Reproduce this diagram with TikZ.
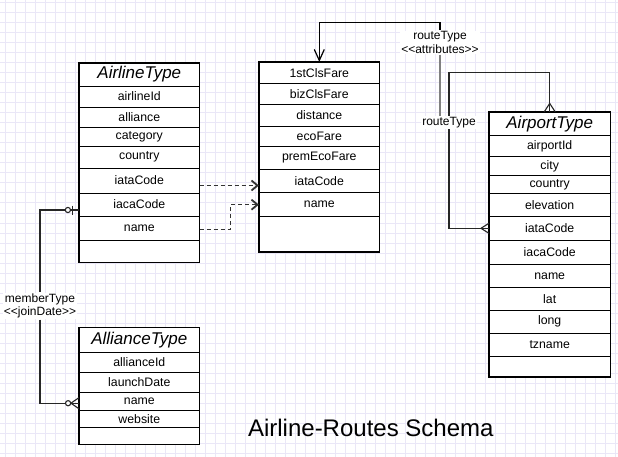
\documentclass[tikz,border=0pt]{standalone}
\usepackage{fontspec}
\setmainfont{Liberation Sans}
\usetikzlibrary{arrows.meta,calc}
\begin{document}
\begin{tikzpicture}[x=1pt,y=-1pt,
  gridline/.style={draw={rgb,255:red,234;green,231;blue,247}, line width=1pt},
  rowbox/.style={draw=black, line width=0.8pt, fill=white, minimum width=120pt, inner sep=0pt, font=\fontsize{12.3}{14}\selectfont},
  headbox/.style={rowbox, font=\fontsize{17}{20}\selectfont\itshape},
  outer/.style={draw=black, line width=1.2pt},
  rel/.style={draw=black!85, line width=1.1pt},
  dep/.style={draw=black!80, line width=1pt, dash pattern=on 4pt off 3pt, -{Straight Barb[length=6pt,width=10pt,line width=1.8pt]}},
  assoc/.style={draw=black, line width=1.1pt, -{Straight Barb[length=11pt,width=10pt,line width=1.2pt]}},
  greyline/.style={draw=black!50, line width=2pt},
  lbl/.style={fill=white, inner sep=1pt, font=\fontsize{12}{13.5}\selectfont, align=center}
]
\path[fill=white] (0,0) rectangle (618,457);
\useasboundingbox (0,0) rectangle (618,457);
\foreach \gx in {5,15,...,615} \draw[gridline] (\gx,0) -- (\gx,457);
\foreach \gy in {3,13,...,453} \draw[gridline] (0,\gy) -- (618,\gy);

% AirlineType
\node[headbox, minimum height=23pt] (al-head) at (139.3,74.5) {AirlineType};
\node[rowbox, minimum height=21pt] (al-id) at (139.3,96.5) {airlineId};
\node[rowbox, minimum height=20pt] (al-all) at (139.3,117) {alliance};
\node[rowbox, minimum height=19pt] (al-cat) at (139.3,136.5) {category};
\node[rowbox, minimum height=22pt] (al-cty) at (139.3,157) {country};
\node[rowbox, minimum height=25pt] (al-iata) at (139.3,180.5) {iataCode};
\node[rowbox, minimum height=23pt] (al-iaca) at (139.3,204.5) {iacaCode};
\node[rowbox, minimum height=24pt] (al-name) at (139.3,228) {name};
\node[rowbox, minimum height=22pt] (al-e) at (139.3,251) {};
\draw[outer] (al-head.north west) rectangle (al-e.south east);

% Route box
\node[rowbox, minimum height=21pt] (rt-1st) at (319.3,72.8) {1stClsFare};
\node[rowbox, minimum height=21pt] (rt-biz) at (319.3,93.8) {bizClsFare};
\node[rowbox, minimum height=21.7pt] (rt-dist) at (319.3,115.2) {distance};
\node[rowbox, minimum height=20pt] (rt-eco) at (319.3,136) {ecoFare};
\node[rowbox, minimum height=23.3pt] (rt-prem) at (319.3,157.7) {premEcoFare};
\node[rowbox, minimum height=23.4pt] (rt-iata) at (319.3,181) {iataCode};
\node[rowbox, minimum height=24pt] (rt-name) at (319.3,204.7) {name};
\node[rowbox, minimum height=35pt] (rt-e) at (319.3,234.2) {};
\draw[outer] (rt-1st.north west) rectangle (rt-e.south east);

% AirportType
\node[headbox, minimum width=120.7pt, minimum height=23.4pt] (ap-head) at (549.7,124) {AirportType};
\node[rowbox, minimum width=120.7pt, minimum height=21pt] (ap-id) at (549.7,146.2) {airportId};
\node[rowbox, minimum width=120.7pt, minimum height=19pt] (ap-city) at (549.7,166.2) {city};
\node[rowbox, minimum width=120.7pt, minimum height=17.6pt] (ap-cty) at (549.7,184.5) {country};
\node[rowbox, minimum width=120.7pt, minimum height=23.4pt] (ap-elev) at (549.7,205) {elevation};
\node[rowbox, minimum width=120.7pt, minimum height=23.3pt] (ap-iata) at (549.7,228.3) {iataCode};
\node[rowbox, minimum width=120.7pt, minimum height=24.3pt] (ap-iaca) at (549.7,252.2) {iacaCode};
\node[rowbox, minimum width=120.7pt, minimum height=23pt] (ap-name) at (549.7,275.8) {name};
\node[rowbox, minimum width=120.7pt, minimum height=22.7pt] (ap-lat) at (549.7,298.7) {lat};
\node[rowbox, minimum width=120.7pt, minimum height=23.3pt] (ap-long) at (549.7,321.7) {long};
\node[rowbox, minimum width=120.7pt, minimum height=23.4pt] (ap-tz) at (549.7,345) {tzname};
\node[rowbox, minimum width=120.7pt, minimum height=20pt] (ap-e) at (549.7,366.7) {};
\draw[outer] (ap-head.north west) rectangle (ap-e.south east);

% AllianceType
\node[headbox, minimum height=24.6pt] (ali-head) at (139.3,340) {AllianceType};
\node[rowbox, minimum height=20pt] (ali-id) at (139.3,362.3) {allianceId};
\node[rowbox, minimum height=20pt] (ali-launch) at (139.3,382.3) {launchDate};
\node[rowbox, minimum height=17.7pt] (ali-name) at (139.3,401.2) {name};
\node[rowbox, minimum height=17.7pt] (ali-web) at (139.3,418.8) {website};
\node[rowbox, minimum height=16.6pt] (ali-e) at (139.3,436) {};
\draw[outer] (ali-head.north west) rectangle (ali-e.south east);

% routeType self-relationship of AirportType
\coordinate (lp) at (449,72.7);
\draw[rel] (ap-iata.west) -| (lp) -| (ap-head.north);
\draw[rel] ($(ap-head.north)+(0,-8.5)$) -- ($(ap-head.north)+(-5.5,0)$)
           ($(ap-head.north)+(0,-8.5)$) -- ($(ap-head.north)+(5.5,0)$);
\draw[rel] ($(ap-iata.west)+(-8,0)$) -- ($(ap-iata.west)+(0,-5)$)
           ($(ap-iata.west)+(-8,0)$) -- ($(ap-iata.west)+(0,5)$);
\node[lbl] (rtlbl) at (449,122.5) {routeType};

% association class link
\node[lbl] (attr) at (440,42.5) {routeType\\<{}<attributes>{}>};
\coordinate (bend) at (440,22.7);
\draw[assoc] (attr) -- (bend) -| (rt-1st.north);
\draw[greyline] (attr) -- (attr |- rtlbl.north);

% dependency arrows
\coordinate (d1) at ($(al-iata.east)+(0,5)$);
\draw[dep] (d1) -- (d1 -| rt-iata.west);
\coordinate (d2) at ($(al-name.east)+(0,1)$);
\draw[dep] (d2) -- ++(31,0) |- (rt-name.west);

% memberType relationship
\node[lbl] (mlbl) at (40,306) {memberType\\<{}<joinDate>{}>};
\coordinate (m1) at ($(al-iaca.west)+(0,5.5)$);
\coordinate (m2) at ($(ali-name.west)+(0,2)$);
\draw[rel] (m1) -| (mlbl);
\draw[rel] (mlbl) |- (m2);
\draw[rel] ($(m1)+(-6,-4.5)$) -- ($(m1)+(-6,4.5)$);
\draw[rel, fill=white] ($(m1)+(-11,0)$) circle (2.6);
\draw[rel] ($(m2)+(-8,0)$) -- ($(m2)+(0,-5.5)$)
           ($(m2)+(-8,0)$) -- ($(m2)+(0,5.5)$);
\draw[rel, fill=white] ($(m2)+(-10.8,0)$) circle (2.6);

% title
\node[font=\fontsize{24}{28}\selectfont, anchor=base, inner sep=0pt] (title) at (370.8,436.7) {Airline-Routes Schema};
\end{tikzpicture}
\end{document}
